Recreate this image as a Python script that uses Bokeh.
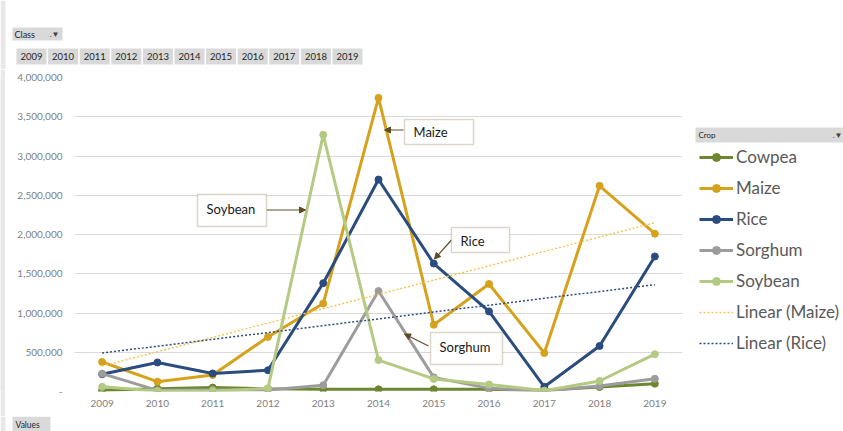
import numpy as np
from bokeh.plotting import figure
from bokeh.layouts import column, row
from bokeh.models import (FactorRange, Range1d, FixedTicker, NumeralTickFormatter,
                          Legend, LegendItem, Label, BoxAnnotation, Arrow, NormalHead)
from bokeh.embed import file_html
from bokeh.resources import INLINE

# ---------------- data ----------------
years = ["2009", "2010", "2011", "2012", "2013", "2014", "2015", "2016", "2017", "2018", "2019"]
cowpea = [15000, 36000, 50000, 36000, 28000, 28000, 28000, 28000, 15000, 57000, 100000]
maize = [376000, 125000, 210000, 695000, 1120000, 3740000, 850000, 1370000, 490000, 2620000, 2010000]
rice = [220000, 370000, 230000, 270000, 1380000, 2700000, 1630000, 1020000, 60000, 580000, 1720000]
sorghum = [227000, 15000, 20000, 20000, 80000, 1280000, 180000, 40000, 10000, 70000, 163000]
soybean = [60000, 5000, 5000, 40000, 3270000, 400000, 160000, 90000, 10000, 134000, 475000]
y_ticks = [0, 500000, 1000000, 1500000, 2000000, 2500000, 3000000, 3500000, 4000000]
series_names = ["Cowpea", "Maize", "Rice", "Sorghum", "Soybean"]
trend_names = ["Linear (Maize)", "Linear (Rice)"]
callouts = ["Maize", "Soybean", "Rice", "Sorghum"]

# linear trendlines (least-squares fit of the series, as Excel does)
xi = np.arange(len(years))
mz_fit = np.polyfit(xi, maize, 1)
rc_fit = np.polyfit(xi, rice, 1)
trend_x = [years[0], years[-1]]
trend_maize = [float(np.polyval(mz_fit, 0)), float(np.polyval(mz_fit, len(years) - 1))]
trend_rice = [float(np.polyval(rc_fit, 0)), float(np.polyval(rc_fit, len(years) - 1))]

colors = {"Cowpea": "#6D8630", "Maize": "#D6A21E", "Rice": "#2B4C7E",
          "Sorghum": "#9C9C9C", "Soybean": "#B4C981"}
trend_colors = {"Linear (Maize)": "#F5C45A", "Linear (Rice)": "#2B4C7E"}
FONT = "Lato"
STRIP = "#E8E8E8"
BTN = "#D9D9D9"


def blank(w, h, bg="white", xr=(0, 1)):
    f = figure(width=w, height=h, output_backend="svg", toolbar_location=None,
               x_range=Range1d(*xr), y_range=Range1d(0, 1),
               x_axis_type=None, y_axis_type=None,
               min_border=0, min_border_left=0, min_border_right=0,
               min_border_top=0, min_border_bottom=0)
    f.outline_line_color = None
    f.background_fill_color = bg
    f.border_fill_color = bg
    f.xgrid.visible = False
    f.ygrid.visible = False
    return f


def box(f, l, t, r, b, fill=BTN, line=None, lw=1):
    f.add_layout(BoxAnnotation(left=l, right=r, top=t, bottom=b,
                               left_units="canvas", right_units="canvas",
                               top_units="canvas", bottom_units="canvas",
                               fill_color=fill, fill_alpha=1,
                               line_color=line, line_width=lw, level="overlay"))


def label(f, x, y, text, size="9px", color="#262626", align="left"):
    f.add_layout(Label(x=x, y=y, x_units="canvas", y_units="canvas", text=text,
                       text_font=FONT, text_font_size=size, text_color=color,
                       text_baseline="middle", text_align=align, level="overlay"))


# ---------------- main chart (page x 5..682, y 69..416) ----------------
p = figure(width=677, height=347, output_backend="svg", toolbar_location=None,
           x_range=FactorRange(factors=years), y_range=Range1d(0, 4000000),
           min_border_left=69, min_border_right=0, min_border_top=8, min_border_bottom=25)
p.outline_line_color = None
p.background_fill_color = "white"
p.border_fill_color = "white"
p.xgrid.grid_line_color = None
p.ygrid.grid_line_color = "#D9D9D9"
p.ygrid.grid_line_width = 1
p.yaxis.ticker = FixedTicker(ticks=y_ticks)
p.yaxis.formatter = NumeralTickFormatter(format="0,0")
p.yaxis.major_label_overrides = {0: "-"}
for ax in (p.xaxis, p.yaxis):
    ax.axis_line_color = None
    ax.major_tick_line_color = None
    ax.minor_tick_line_color = None
    ax.major_tick_in = 0
    ax.major_tick_out = 0
    ax.major_label_text_color = "#808080"
    ax.major_label_text_font = FONT
    ax.major_label_text_font_size = "10px"
p.yaxis.major_label_standoff = 12
p.xaxis.major_label_standoff = 8

data = {"Cowpea": cowpea, "Maize": maize, "Rice": rice, "Sorghum": sorghum, "Soybean": soybean}
for name in series_names:
    c = colors[name]
    p.line(years, data[name], line_color=c, line_width=3)
    p.scatter(years, data[name], size=7, fill_color=c, line_color=c)
p.line(trend_x, trend_maize, line_color=trend_colors["Linear (Maize)"], line_width=1.5, line_dash="2 2")
p.line(trend_x, trend_rice, line_color=trend_colors["Linear (Rice)"], line_width=1.5, line_dash="2 2")

# callouts (canvas coords of the main chart: origin at page x=5, y=69)
OY = 8
cbox = [(399, 42, 468, 67), (192, 117, 261, 149), (446, 150, 504, 175), (425, 255, 497, 287)]
ctxt = [(408, 54), (201, 131), (455, 163), (434, 269)]
arrows = [((398, 52.5), (379, 52.5)), ((261, 132.5), (300, 132.5)),
          ((446, 162.5), (429, 181.5)), ((423, 268.5), (399, 256.5))]
for (l, t, r, b), (tx, ty), name, ((x0, y0), (x1, y1)) in zip(cbox, ctxt, callouts, arrows):
    p.add_layout(Arrow(x_start=x0, y_start=y0 + OY, x_end=x1, y_end=y1 + OY,
                       start_units="canvas", end_units="canvas",
                       line_color="#5E4B2A", line_width=1.2,
                       end=NormalHead(size=6, fill_color="#5E4B2A", line_color="#5E4B2A"),
                       level="overlay"))
    box(p, l, t + OY, r, b + OY, fill="white", line="#8A7650", lw=1.5)
    label(p, tx, ty + OY, name, size="13px", color="#1A1A1A")

# ---------------- legend panel (page x 682..843, y 69..416) ----------------
# the series are drawn off-range here so that only their legend glyphs show
lg = blank(161, 347, xr=(100, 101))
items = []
for name in series_names:
    c = colors[name]
    l = lg.line(xi, data[name], line_color=c, line_width=3)
    s = lg.scatter(xi, data[name], size=6, fill_color=c, line_color=c)
    items.append(LegendItem(label=name, renderers=[l, s]))
for name, tv in zip(trend_names, [trend_maize, trend_rice]):
    l = lg.line([0, 10], tv, line_color=trend_colors[name], line_width=1.5, line_dash="2 2")
    items.append(LegendItem(label=name, renderers=[l]))
legend = Legend(items=items, location=(17, 38), padding=0, margin=0,
                spacing=10, glyph_height=20, glyph_width=34, label_height=20,
                label_standoff=3, label_text_font=FONT, label_text_font_size="17px",
                label_text_color="#595959", border_line_color=None,
                background_fill_alpha=0)
lg.add_layout(legend, "center")
box(lg, 13, 58, 161, 73)
label(lg, 16, 65.5, "Crop", size="8px")
label(lg, 160, 65, ".\u25BC", size="8px", color="#404040", align="right")

# ---------------- header with pivot buttons (page y 0..69) ----------------
top = blank(843, 69)
box(top, 0, 0, 5, 69, fill=STRIP)
box(top, 12, 27, 62, 40)
label(top, 14, 33.5, "Class", size="9px")
label(top, 59, 33, ".\u25BC", size="8px", color="#404040", align="right")
bx = 16
for yr in years:
    box(top, bx, 48, bx + 30, 64)
    label(top, bx + 15, 56, yr, size="9.5px", align="center")
    bx += 31.6

# ---------------- footer ----------------
bottom = blank(843, 15)
box(bottom, 0, 0, 5, 15, fill=STRIP)
box(bottom, 12, 0, 50, 15)
label(bottom, 15, 8, "Values", size="8.5px")

strip = blank(5, 347, bg=STRIP)

layout = column(top, row(strip, p, lg, spacing=0), bottom, spacing=0)
open("out.html", "w").write(file_html(layout, INLINE))
